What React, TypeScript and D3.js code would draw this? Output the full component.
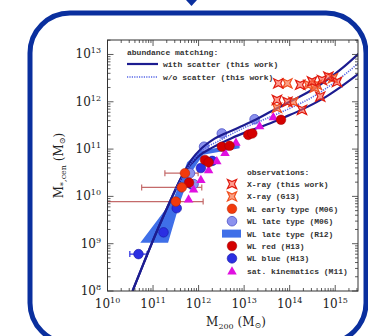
import React from 'react';
import * as d3 from 'd3';

// values are log10(M / Msun)
const withScatterUpper = [
  [10.55, 8.0], [10.8, 8.6], [11.1, 9.3], [11.4, 9.95], [11.65, 10.45], [11.85, 10.78],
  [12.05, 11.0], [12.35, 11.22], [12.8, 11.42], [13.2, 11.6], [13.6, 11.8], [14.0, 12.0],
  [14.4, 12.2], [14.8, 12.45], [15.2, 12.75], [15.55, 13.05],
];
const withScatterLower = [
  [10.55, 8.0], [10.8, 8.6], [11.1, 9.3], [11.4, 9.95], [11.65, 10.45], [11.85, 10.7],
  [12.0, 10.85], [12.3, 11.03], [12.7, 11.22], [13.1, 11.38], [13.5, 11.52], [13.9, 11.68],
  [14.3, 11.85], [14.7, 12.05], [15.1, 12.3], [15.55, 12.62],
];
const withoutScatter = [
  [11.5, 10.15], [11.8, 10.65], [12.0, 10.9], [12.5, 11.2], [13.0, 11.45], [13.5, 11.65],
  [14.0, 11.86], [14.5, 12.1], [15.0, 12.42], [15.55, 12.85],
];
const bandR12 = [
  [10.72, 9.02], [11.33, 9.02], [11.6, 9.9], [11.82, 10.48], [12.1, 10.88], [12.9, 11.02],
  [12.9, 11.1], [12.05, 10.97], [11.75, 10.72], [11.45, 9.95],
];

const xrayThisWork = [
  [13.75, 12.39], [13.72, 12.04], [13.95, 12.0], [14.27, 11.83], [14.23, 12.36],
  [14.49, 12.43], [14.71, 12.46], [14.85, 12.53], [15.04, 12.42], [14.67, 12.11],
];
const xrayG13 = [
  [13.72, 11.87], [14.08, 12.0], [13.95, 12.39], [14.41, 12.36], [14.6, 12.36],
  [14.55, 12.3], [14.95, 12.5],
];
const wlEarlyM06 = [
  { x: 11.7, y: 10.49, lo: 11.26, hi: 11.99 },
  { x: 11.63, y: 10.19, lo: 10.75, hi: 12.07 },
  { x: 11.5, y: 9.89, lo: 9.9, hi: 12.1 },
];
const wlLateM06 = [
  [11.81, 10.49], [11.89, 10.26], [12.12, 11.05], [12.51, 11.33], [13.23, 11.63],
];
const wlRedH13 = [
  [11.79, 10.29], [12.14, 10.77], [12.22, 10.72], [12.51, 11.05], [12.68, 11.07],
  [13.09, 11.3], [13.18, 11.33], [13.81, 11.62],
];
const wlBlueH13 = [
  [11.23, 9.24], [11.52, 9.75], [11.85, 10.25], [12.05, 10.6], [12.3, 10.75],
];
const wlBlueErr = { x: 10.68, y: 8.78, lo: 10.49, hi: 10.87 };
const satKinM11 = [
  [11.78, 9.94], [11.89, 10.15], [12.05, 10.35], [12.22, 10.56], [12.4, 10.75],
  [12.58, 10.92], [12.82, 11.14], [13.09, 11.33], [13.34, 11.49], [13.64, 11.68],
];

const xMajor = [10, 11, 12, 13, 14, 15];
const yMajor = [8, 9, 10, 11, 12, 13];

const W = 368;
const H = 336;
const left = 107.5, right = 358, top = 40, bottom = 291;

const x = d3.scaleLog().domain([1e10, Math.pow(10, 15.5)]).range([left, right]);
const y = d3.scaleLog().domain([1e8, Math.pow(10, 13.306)]).range([bottom, top]);
const px = (v: number) => x(Math.pow(10, v));
const py = (v: number) => y(Math.pow(10, v));

const navy = '#1c1c90';
const cRed = '#d40000';
const cEarly = '#f23a0c';
const cLate = '#8c92ee';
const cBlue = '#2b2fe2';
const cMag = '#e010e0';
const cBand = '#3f6fe8';
const cErr = '#c46a6a';

const mono = '"Liberation Mono", "DejaVu Sans Mono", monospace';
const serif = '"DejaVu Serif", serif';

function starPath(cx: number, cy: number, R = 6.5, r = 2.4) {
  const pts: string[] = [];
  for (let i = 0; i < 8; i++) {
    const a = Math.PI / 4 + (i * Math.PI) / 4;
    const rr = i % 2 === 0 ? R : r;
    pts.push(`${cx + rr * Math.cos(a)},${cy + rr * Math.sin(a)}`);
  }
  return 'M' + pts.join('L') + 'Z';
}

function triPath(cx: number, cy: number, s = 5) {
  return `M${cx},${cy - s}L${cx + s * 0.95},${cy + s * 0.65}L${cx - s * 0.95},${cy + s * 0.65}Z`;
}

const Star = ({ cx, cy, stroke, fill }: any) => (
  <path d={starPath(cx, cy)} fill={fill} stroke={stroke} strokeWidth={1.2} />
);

export default function App() {
  const line = d3.line<number[]>().x(d => px(d[0])).y(d => py(d[1])).curve(d3.curveMonotoneX);
  const poly = d3.line<number[]>().x(d => px(d[0])).y(d => py(d[1])).curve(d3.curveLinearClosed);

  const xt = x.ticks();
  const yt = y.ticks();
  const isMajor = (v: number) => Math.abs(Math.log10(v) - Math.round(Math.log10(v))) < 1e-6;

  const legItems = [
    'X-ray (this work)', 'X-ray (G13)', 'WL early type (M06)', 'WL late type (M06)',
    'WL late type (R12)', 'WL red (H13)', 'WL blue (H13)', 'sat. kinematics (M11)',
  ];
  const legX = 232, legTextX = 247, legY0 = 184, legDy = 12.4;

  return (
    <svg width={W} height={H} style={{ position: 'absolute', left: 0, top: 0, background: '#fff' }}>
      {/* outer rounded frame */}
      <rect x={30} y={13} width={336} height={330} rx={40} ry={40} fill="none" stroke="#0a2f9e" strokeWidth={5} />
      <path d="M186,0L197,0L191.5,6Z" fill="#0a2f9e" />

      <defs>
        <clipPath id="plot">
          <rect x={left} y={top} width={right - left} height={bottom - top} />
        </clipPath>
      </defs>

      <g clipPath="url(#plot)">
        <path d={poly(bandR12) || ''} fill={cBand} />
        {wlEarlyM06.map((d, i) => (
          <g key={'e' + i} stroke={cErr} strokeWidth={1.2}>
            <line x1={px(d.lo)} x2={px(d.hi)} y1={py(d.y)} y2={py(d.y)} />
            <line x1={px(d.lo)} x2={px(d.lo)} y1={py(d.y) - 3} y2={py(d.y) + 3} />
            <line x1={px(d.hi)} x2={px(d.hi)} y1={py(d.y) - 3} y2={py(d.y) + 3} />
          </g>
        ))}
        <g stroke={cBlue} strokeWidth={1.2}>
          <line x1={px(wlBlueErr.lo)} x2={px(wlBlueErr.hi)} y1={py(wlBlueErr.y)} y2={py(wlBlueErr.y)} />
          <line x1={px(wlBlueErr.lo)} x2={px(wlBlueErr.lo)} y1={py(wlBlueErr.y) - 3} y2={py(wlBlueErr.y) + 3} />
          <line x1={px(wlBlueErr.hi)} x2={px(wlBlueErr.hi)} y1={py(wlBlueErr.y) - 3} y2={py(wlBlueErr.y) + 3} />
        </g>
        {wlBlueH13.map((d, i) => (
          <circle key={'b' + i} cx={px(d[0])} cy={py(d[1])} r={4.8} fill={cBlue} stroke="#1818a0" strokeWidth={0.6} />
        ))}
        <circle cx={px(wlBlueErr.x)} cy={py(wlBlueErr.y)} r={4.8} fill={cBlue} stroke="#1818a0" strokeWidth={0.6} />
        {wlLateM06.map((d, i) => (
          <circle key={'l' + i} cx={px(d[0])} cy={py(d[1])} r={4.8} fill={cLate} stroke="#4a50c8" strokeWidth={0.8} />
        ))}
        <path d={line(withScatterUpper) || ''} fill="none" stroke={navy} strokeWidth={2.2} />
        <path d={line(withScatterLower) || ''} fill="none" stroke={navy} strokeWidth={2.2} />
        <path d={line(withoutScatter) || ''} fill="none" stroke="#5566e6" strokeWidth={1.6} strokeDasharray="1.2 1.2" />
        {satKinM11.map((d, i) => (
          <path key={'t' + i} d={triPath(px(d[0]), py(d[1]))} fill={cMag} />
        ))}
        {wlRedH13.map((d, i) => (
          <circle key={'r' + i} cx={px(d[0])} cy={py(d[1])} r={4.8} fill={cRed} stroke="#900" strokeWidth={0.5} />
        ))}
        {wlEarlyM06.map((d, i) => (
          <circle key={'ec' + i} cx={px(d.x)} cy={py(d.y)} r={4.8} fill={cEarly} stroke="#b02000" strokeWidth={0.5} />
        ))}
        {xrayG13.map((d, i) => (
          <Star key={'g' + i} cx={px(d[0])} cy={py(d[1])} stroke="#f05020" fill="rgba(250,120,80,0.7)" />
        ))}
        {xrayThisWork.map((d, i) => (
          <Star key={'x' + i} cx={px(d[0])} cy={py(d[1])} stroke="#e01c10" fill="rgba(255,90,70,0.6)" />
        ))}
      </g>

      {/* frame and ticks */}
      <rect x={left} y={top} width={right - left} height={bottom - top} fill="none" stroke="#333" strokeWidth={1} />
      <g stroke="#333" strokeWidth={0.8}>
        {xt.map((t, i) => {
          const L = isMajor(t) ? 6 : 3;
          const xx = x(t);
          if (xx < left || xx > right) return null;
          return (
            <g key={'xt' + i}>
              <line x1={xx} x2={xx} y1={bottom} y2={bottom - L} />
              <line x1={xx} x2={xx} y1={top} y2={top + L} />
            </g>
          );
        })}
        {yt.map((t, i) => {
          const L = isMajor(t) ? 6 : 3;
          const yy = y(t);
          if (yy < top || yy > bottom) return null;
          return (
            <g key={'yt' + i}>
              <line x1={left} x2={left + L} y1={yy} y2={yy} />
              <line x1={right} x2={right - L} y1={yy} y2={yy} />
            </g>
          );
        })}
      </g>

      {/* tick labels */}
      <g fontFamily={serif} fill="#222">
        {xMajor.map(e => (
          <text key={'xl' + e} x={px(e)} y={308} textAnchor="middle" fontSize={12}>
            10<tspan fontSize={8} dy={-5}>{e}</tspan>
          </text>
        ))}
        {yMajor.map(e => (
          <text key={'yl' + e} x={101} y={py(e) + 4} textAnchor="end" fontSize={12}>
            10<tspan fontSize={8} dy={-5}>{e}</tspan>
          </text>
        ))}
        <text x={236} y={326} textAnchor="middle" fontSize={12}>
          M<tspan fontSize={8} dy={3}>200</tspan><tspan dy={-3}> (M</tspan><tspan fontSize={8} dy={2}>⊙</tspan><tspan dy={-2}>)</tspan>
        </text>
        <text transform={`translate(63,${(top + bottom) / 2}) rotate(-90)`} textAnchor="middle" fontSize={12}>
          M<tspan fontSize={8} dy={3}>*,cen</tspan><tspan dy={-3}> (M</tspan><tspan fontSize={8} dy={2}>⊙</tspan><tspan dy={-2}>)</tspan>
        </text>
      </g>

      {/* top legend */}
      <g fontFamily={mono} fontSize={8} fontWeight="bold" fill="#333">
        <text x={127} y={55}>abundance matching:</text>
        <line x1={127} x2={158} y1={64} y2={64} stroke={navy} strokeWidth={2.2} />
        <text x={163} y={67}>with scatter (this work)</text>
        <line x1={127} x2={158} y1={77} y2={77} stroke="#5566e6" strokeWidth={1.6} strokeDasharray="1.2 1.2" />
        <text x={163} y={80}>w/o scatter (this work)</text>
      </g>

      {/* observations legend */}
      <g fontFamily={mono} fontSize={8} fontWeight="bold" fill="#333">
        <text x={legTextX} y={175}>observations:</text>
        {legItems.map((s, i) => (
          <text key={'lg' + i} x={legTextX} y={legY0 + i * legDy + 3}>{s}</text>
        ))}
      </g>
      <g>
        <Star cx={legX} cy={legY0} stroke="#e01c10" fill="rgba(255,90,70,0.6)" />
        <Star cx={legX} cy={legY0 + legDy} stroke="#f05020" fill="rgba(250,120,80,0.7)" />
        <circle cx={legX} cy={legY0 + 2 * legDy} r={4.8} fill={cEarly} stroke="#b02000" strokeWidth={0.5} />
        <circle cx={legX} cy={legY0 + 3 * legDy} r={4.8} fill={cLate} stroke="#4a50c8" strokeWidth={0.8} />
        <rect x={legX - 10} y={legY0 + 4 * legDy - 4} width={19} height={8} fill={cBand} />
        <circle cx={legX} cy={legY0 + 5 * legDy} r={4.8} fill={cRed} stroke="#900" strokeWidth={0.5} />
        <circle cx={legX} cy={legY0 + 6 * legDy} r={4.8} fill={cBlue} stroke="#1818a0" strokeWidth={0.6} />
        <path d={triPath(legX, legY0 + 7 * legDy + 0.5)} fill={cMag} />
      </g>
    </svg>
  );
}
